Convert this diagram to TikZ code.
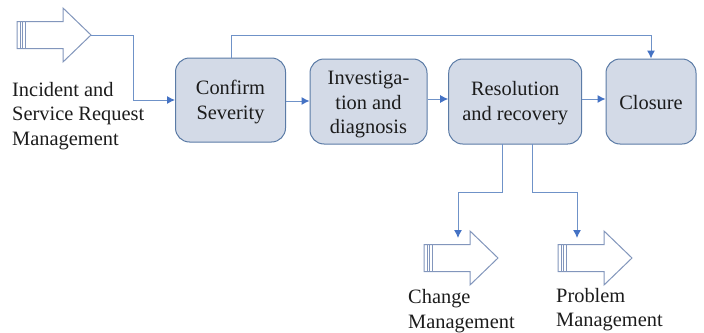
\documentclass[tikz,border=0pt]{standalone}
\usepackage{fontspec}
\setmainfont{Liberation Serif}
\usetikzlibrary{arrows.meta}
\definecolor{boxfill}{HTML}{D3DAE7}
\definecolor{boxline}{HTML}{5B7BA6}
\definecolor{conn}{HTML}{6F92C8}
\definecolor{tipc}{HTML}{4472C4}
\definecolor{shapeline}{HTML}{8296BC}
\definecolor{ink}{HTML}{1C1C1C}
\newcommand{\lowered}[1]{\rule{0pt}{#1pt}}
\tikzset{
  x=1pt,y=-1pt,
  stepbox/.style={draw=boxline,fill=boxfill,line width=1pt,rounded corners=14pt,align=center,inner sep=0pt,
    font=\fontsize{20.4pt}{24.5pt}\selectfont,text=ink},
  flow/.style={draw=conn,line width=1pt,-{Latex[length=8pt,width=8pt,color=tipc]}},
  caption/.style={align=left,anchor=west,inner sep=0pt,font=\fontsize{20.4pt}{24.5pt}\selectfont,text=ink},
  fatarrow/.style={draw=shapeline,line width=1pt,fill=white},
}
\newcommand{\fatarrow}[5]{% name, left, midy, neck x, tip x
  \draw[fatarrow] (#2,#3-13.5) -- (#4,#3-13.5) -- (#4,#3-27) -- (#5,#3) -- (#4,#3+27) -- (#4,#3+13.5) -- (#2,#3+13.5) -- cycle;
  \draw[fatarrow] (#2+3,#3-13.5) -- (#2+3,#3+13.5);
  \draw[fatarrow] (#2+5.5,#3-13.5) -- (#2+5.5,#3+13.5);
  \draw[fatarrow] (#2+8.5,#3-13.5) -- (#2+8.5,#3+13.5);
  \coordinate (#1) at (#5,#3);
}
\begin{document}
\begin{tikzpicture}
\useasboundingbox (0,0) rectangle (704,332);
% boxes
\node[stepbox,minimum width=110pt,minimum height=84pt] (confirm) at (230.5,100) {\lowered{18}Confirm\\Severity};
\node[stepbox,minimum width=117pt,minimum height=85pt] (invest) at (368.5,101.5) {\lowered{20}Investiga-\\tion and\\diagnosis};
\node[stepbox,minimum width=133pt,minimum height=85pt] (resol) at (515.2,101.5) {\lowered{17}Resolution\\and recovery};
\node[stepbox,minimum width=90pt,minimum height=85pt] (closure) at (651,101.5) {\lowered{16}Closure};
% fat arrows
\fatarrow{inA}{17}{35}{63}{91}
\fatarrow{chA}{424}{258}{470}{498}
\fatarrow{prA}{558}{258}{604}{632}
\coordinate (chIn) at (458,238);
\coordinate (prIn) at (577,238);
% labels
\node[caption] (incident) at (12,116) {Incident and\\Service Request\\Management};
\node[caption] (change) at (408,311) {Change\\Management};
\node[caption] (problem) at (556,309.5) {Problem\\Management};
% connectors
\draw[flow] (inA) -- (133,35) -- (133,100) -- (confirm.west);
\draw[flow] (confirm.east |- 0,101) -- (invest.west |- 0,101);
\draw[flow] (invest.east |- 0,99) -- (resol.west |- 0,99);
\draw[flow] (resol.east |- 0,99) -- (closure.west |- 0,99);
\draw[flow] (231,58) -- (231,35) -- (651,35) -- (closure.north);
\draw[flow] (502.5,144) -- (502.5,192) -- (458,192) -- (chIn);
\draw[flow] (532,144) -- (532,192) -- (577,192) -- (prIn);
\end{tikzpicture}
\end{document}
